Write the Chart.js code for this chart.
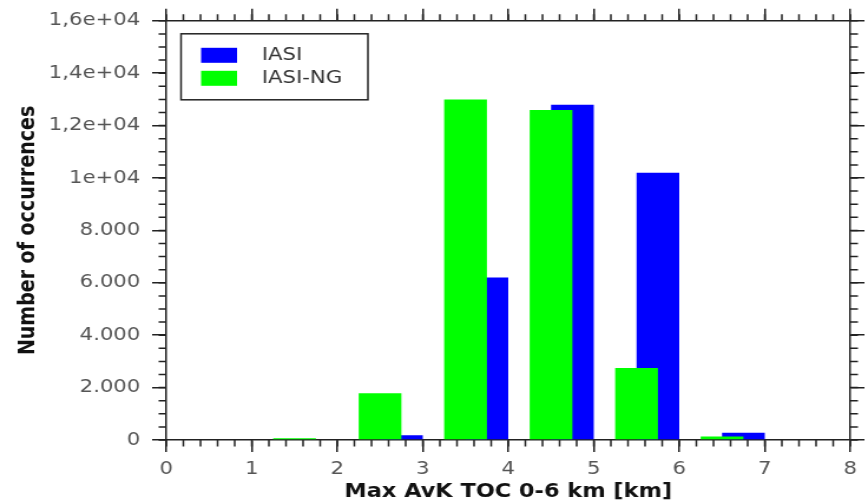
<!DOCTYPE html>
<html>
<head>
<meta charset="utf-8">
<script src="https://cdn.jsdelivr.net/npm/chart.js@4.4.1/dist/chart.umd.min.js"></script>
<style>
  html, body { margin: 0; padding: 0; background: #fff; overflow: hidden; }
  #wrap { width: 868px; height: 503px; }
  /* the original picture is stretched sideways, so the canvas is too */
  #chart { transform: scaleX(1.1793); transform-origin: 0 0; }
</style>
</head>
<body>
<div id="wrap"><canvas id="chart" width="736" height="503"></canvas></div>
<script>
// data
const seriesNames = ["IASI", "IASI-NG"];
const iasiBins = [0.75, 1.75, 2.75, 3.75, 4.75, 5.75, 6.75, 7.75];
const iasiCounts = [0, 0, 180, 6200, 12800, 10200, 280, 0];
const iasiNgBins = [0.5, 1.5, 2.5, 3.5, 4.5, 5.5, 6.5, 7.5];
const iasiNgCounts = [0, 70, 1780, 13000, 12600, 2750, 130, 0];

const xTickLabels = ["0", "1", "2", "3", "4", "5", "6", "7", "8"];
const yTickValues = [0, 2000, 4000, 6000, 8000, 10000, 12000, 14000, 16000];
const yTickLabels = ["0", "2.000", "4.000", "6.000", "8.000", "1e+04", "1,2e+04", "1,4e+04", "1,6e+04"];
const xTitle = "Max AvK TOC 0-6 km [km]";
const yTitle = "Number of occurrences";

const blue = "#0000ff";
const green = "#00ff00";
const axisColor = "#222";
const tickText = "#555";
const fontFamily = "'DejaVu Sans', sans-serif";
const majorLen = 12;
const minorLen = 6.5;

// short ticks between the labelled ones, on all four sides
const minorTicks = {
  id: "minorTicks",
  afterDraw(chart) {
    const ctx = chart.ctx;
    const a = chart.chartArea;
    ctx.save();
    ctx.strokeStyle = axisColor;
    ctx.lineWidth = 1.5;
    ctx.beginPath();
    ["x", "x2"].forEach((id) => {
      const s = chart.scales[id];
      const n = Math.round((s.max - s.min) / 0.2);
      for (let i = 0; i <= n; i++) {
        const px = s.getPixelForValue(s.min + i * 0.2);
        if (id === "x") { ctx.moveTo(px, a.bottom); ctx.lineTo(px, a.bottom + minorLen); }
        else { ctx.moveTo(px, a.top); ctx.lineTo(px, a.top - minorLen); }
      }
    });
    ["y", "y2"].forEach((id) => {
      const s = chart.scales[id];
      const n = Math.round((s.max - s.min) / 500);
      for (let i = 0; i <= n; i++) {
        const py = s.getPixelForValue(s.min + i * 500);
        if (id === "y") { ctx.moveTo(a.left, py); ctx.lineTo(a.left - minorLen, py); }
        else { ctx.moveTo(a.right, py); ctx.lineTo(a.right + minorLen, py); }
      }
    });
    ctx.stroke();
    ctx.restore();
  },
};

// framed legend in the upper left corner of the plot
const boxLegend = {
  id: "boxLegend",
  afterDraw(chart) {
    const ctx = chart.ctx;
    const a = chart.chartArea;
    const bx = a.left + 12.5, by = a.top + 13;
    ctx.save();
    ctx.strokeStyle = axisColor;
    ctx.lineWidth = 1.5;
    ctx.fillStyle = "#fff";
    ctx.fillRect(bx, by, 158.5, 66);
    ctx.strokeRect(bx, by, 158.5, 66);
    ctx.font = "18px " + fontFamily;
    ctx.textBaseline = "middle";
    chart.data.datasets.forEach((ds, i) => {
      const rowY = by + 14 + i * 23;
      ctx.fillStyle = ds.backgroundColor;
      ctx.fillRect(bx + 17, rowY, 30.5, 15);
      ctx.fillStyle = "#333";
      ctx.fillText(ds.label, bx + 68.5, rowY + 8);
    });
    ctx.restore();
  },
};

const gridOpts = {
  offset: false,
  drawOnChartArea: false,
  drawTicks: true,
  tickLength: majorLen,
  tickColor: axisColor,
  tickWidth: 1.5,
  lineWidth: 1.5,
};
const borderOpts = { display: true, color: axisColor, width: 1.5 };

let ctx = document.getElementById("chart").getContext("2d");
let myChart = new Chart(ctx, {
  type: "bar",
  data: {
    datasets: [
      {
        label: seriesNames[0],
        data: iasiBins.map((x, i) => ({ x: x, y: iasiCounts[i] })),
        backgroundColor: blue,
        xAxisID: "x2",
        order: 2,
      },
      {
        label: seriesNames[1],
        data: iasiNgBins.map((x, i) => ({ x: x, y: iasiNgCounts[i] })),
        backgroundColor: green,
        xAxisID: "x",
        order: 1,
      },
    ],
  },
  options: {
    responsive: false,
    animation: false,
    devicePixelRatio: 1,
    layout: { padding: 0 },
    datasets: {
      bar: { grouped: false, barPercentage: 0.5, categoryPercentage: 1, borderWidth: 0 },
    },
    plugins: {
      legend: { display: false },
      tooltip: { enabled: false },
    },
    scales: {
      x: {
        type: "linear",
        position: "bottom",
        offset: false,
        min: 0,
        max: 8,
        ticks: {
          stepSize: 1,
          autoSkip: false,
          maxRotation: 0,
          padding: 7,
          color: tickText,
          font: { family: fontFamily, size: 18 },
          callback: (v) => xTickLabels[Math.round(v)],
        },
        grid: gridOpts,
        border: borderOpts,
        title: {
          display: true,
          text: xTitle,
          color: "#111",
          font: { family: fontFamily, size: 19, weight: "bold", lineHeight: 1.2 },
          padding: { top: 0, bottom: 0 },
        },
        afterFit: (s) => { s.height = 63; },
      },
      x2: {
        type: "linear",
        position: "top",
        offset: false,
        min: 0,
        max: 8,
        ticks: { display: false, stepSize: 1 },
        grid: gridOpts,
        border: borderOpts,
        afterFit: (s) => { s.height = 20; },
      },
      y: {
        type: "linear",
        position: "left",
        min: 0,
        max: 16000,
        ticks: {
          stepSize: 2000,
          padding: 10,
          color: tickText,
          font: { family: fontFamily, size: 18 },
          callback: (v) => yTickLabels[yTickValues.indexOf(v)],
        },
        grid: gridOpts,
        border: borderOpts,
        title: {
          display: true,
          text: yTitle,
          color: "#111",
          font: { family: fontFamily, size: 19, weight: "bold", lineHeight: 1.2 },
          padding: { top: 13, bottom: 0 },
        },
        afterFit: (s) => { s.width = 141; },
      },
      y2: {
        type: "linear",
        position: "right",
        min: 0,
        max: 16000,
        ticks: { display: false, stepSize: 2000 },
        grid: gridOpts,
        border: borderOpts,
        afterFit: (s) => { s.width = 15; },
      },
    },
  },
  plugins: [minorTicks, boxLegend],
});
</script>
</body>
</html>
